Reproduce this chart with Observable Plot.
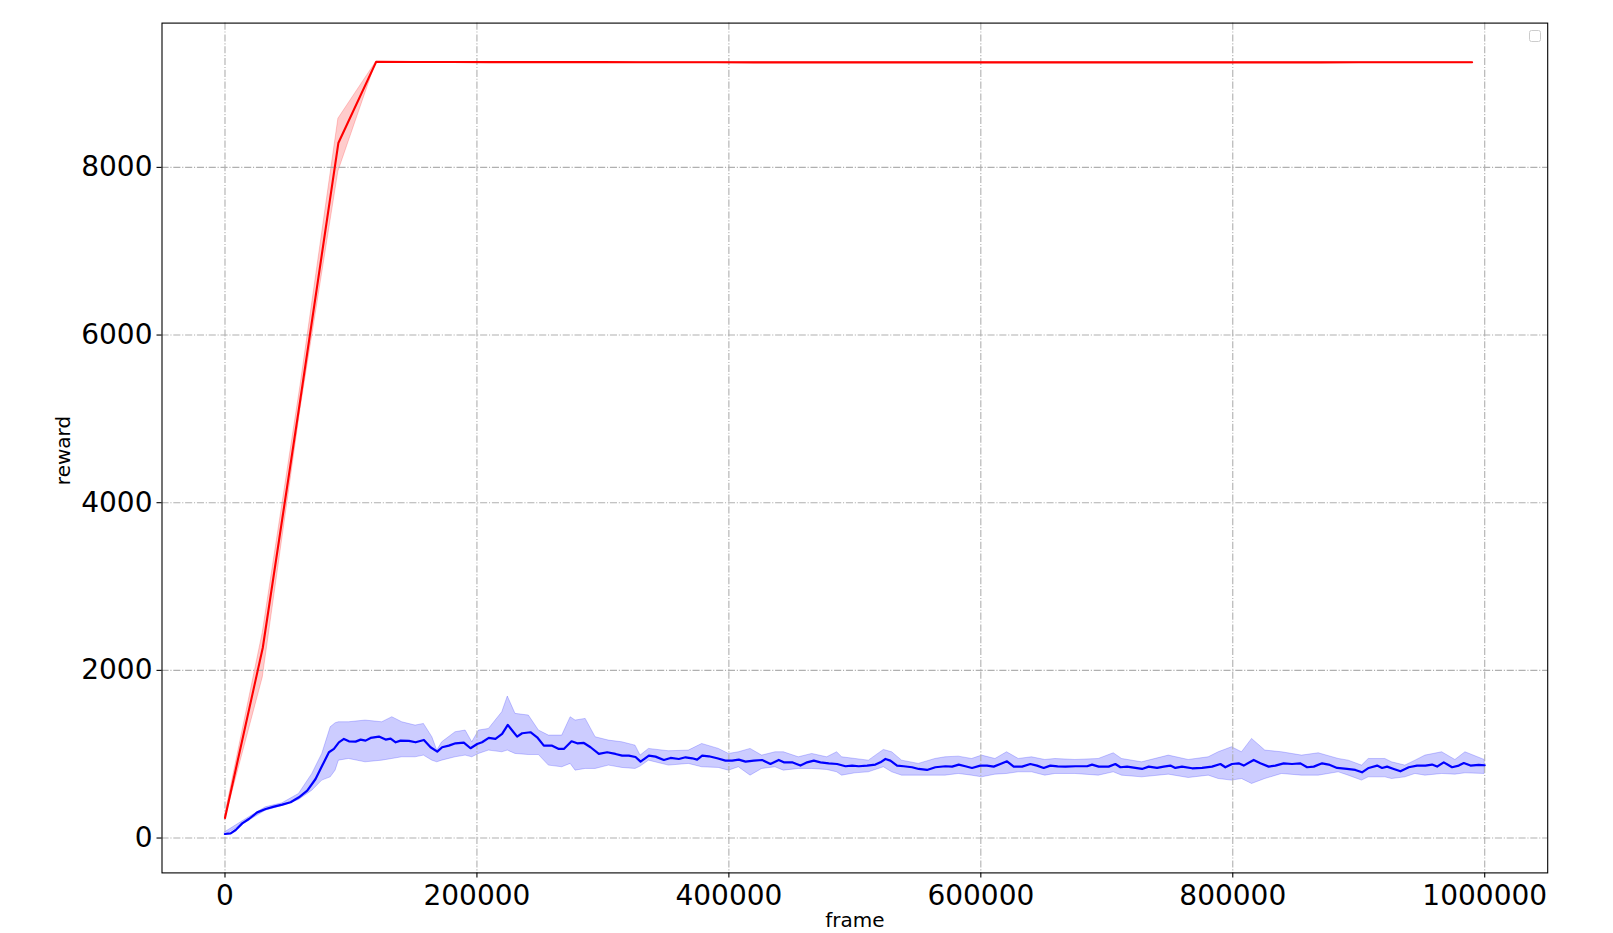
<!DOCTYPE html>
<html>
<head>
<meta charset="utf-8">
<script src="https://cdn.jsdelivr.net/npm/d3@7"></script>
<script src="https://cdn.jsdelivr.net/npm/@observablehq/plot@0.6"></script>
<style>
  html, body { margin: 0; padding: 0; background: #fff; }
  #chart { width: 1613px; height: 933px; }
</style>
</head>
<body>
<div id="chart"></div>
<script>
// ---------- data ----------
const xTicks = [0, 200000, 400000, 600000, 800000, 1000000];
const yTicks = [0, 2000, 4000, 6000, 8000];
const xLabel = "frame";
const yLabel = "reward";

// red series (mean) and its spread
const redX = [0, 30000, 60000, 90000, 120000, 150000, 180000, 210000, 240000, 270000,
  300000, 330000, 360000, 390000, 420000, 450000, 480000, 510000, 540000, 570000,
  600000, 630000, 660000, 690000, 720000, 750000, 780000, 810000, 840000, 870000,
  900000, 930000, 960000, 990000];
const redY = [240, 2270, 5250, 8290, 9258, 9257, 9257, 9256, 9256, 9255,
  9255, 9254, 9254, 9254, 9253, 9253, 9253, 9253, 9253, 9253,
  9253, 9253, 9253, 9253, 9253, 9253, 9253, 9253, 9253, 9253,
  9254, 9254, 9254, 9254];
const redLo = [215, 1915, 5120, 7950, 9258, 9257, 9257, 9256, 9256, 9255,
  9255, 9254, 9254, 9254, 9253, 9253, 9253, 9253, 9253, 9253,
  9253, 9253, 9253, 9253, 9253, 9253, 9253, 9253, 9253, 9253,
  9254, 9254, 9254, 9254];
const redHi = [265, 2450, 5400, 8580, 9258, 9257, 9257, 9256, 9256, 9255,
  9255, 9254, 9254, 9254, 9253, 9253, 9253, 9253, 9253, 9253,
  9253, 9253, 9253, 9253, 9253, 9253, 9253, 9253, 9253, 9253,
  9254, 9254, 9254, 9254];

// blue series (mean)
const blueX = [
  0, 4500, 8500, 13700, 19000, 25600, 32300, 38900, 45500, 52100,
  58700, 65300, 71900, 77200, 82500, 86500, 90400, 94400, 98400, 103700,
  107700, 111600, 115600, 122200, 127500, 131500, 135500, 139400, 146000, 151300,
  157900, 163200, 168500, 172400, 177700, 183000, 189600, 194900, 200200, 204100,
  209400, 214700, 220000, 224500, 228000, 231900, 235900, 242500, 247800, 253100,
  259700, 265000, 269000, 275100, 279600, 284900, 290200, 296800, 303400, 310000,
  315300, 320600, 325900,
  329900, 336500, 341800, 348400, 353700, 360300, 365600, 370900, 374800, 378800,
  384100, 390700, 397300, 402600, 407900, 413200, 419800, 426400, 433000, 439600,
  443600, 450200, 456800, 462100, 467400, 472700, 479300, 485900, 492600, 497800,
  503100, 509700, 516300, 520300, 524300, 528200, 533500, 538800, 545400, 550700,
  557300, 563900, 571900, 577200, 582500, 587700, 593000, 599600, 604900, 610200,
  615500, 620800, 626100, 632700, 639300, 644600, 649900, 655200,
  661000, 667200, 675100, 684400, 688300, 693600, 701500, 706800, 710800, 716100,
  722700, 728000, 733300, 739900, 745200, 750500, 754400, 759700, 767700, 775600,
  783500, 790200, 794100, 799400, 804700, 808700, 816600, 821900, 828500, 833800,
  840400, 847000, 853700, 859000, 864300, 870900, 876200, 882800, 890700, 897300,
  902600, 907900, 914600, 918500, 922500, 927800, 933100, 939700, 946300, 952900,
  958200, 962200, 967500, 974100, 979400, 983400, 988700, 995300, 1000000];
const blueY = [
  48, 56, 96, 175, 227, 306, 346, 374, 398, 426,
  486, 565, 704, 864, 1023, 1063, 1142, 1182, 1154, 1150,
  1174, 1162, 1194, 1210, 1174, 1186, 1142, 1162, 1158, 1142,
  1170, 1083, 1031, 1083, 1102, 1130, 1138, 1071, 1122, 1142,
  1194, 1182, 1242, 1349, 1282, 1210, 1250, 1262, 1202, 1102,
  1102, 1063, 1063, 1154, 1130, 1134, 1083, 1003, 1023, 1003,
  983, 983, 967,
  911, 983, 971, 931, 955, 943, 963, 951, 935, 983,
  975, 951, 923, 923, 935, 911, 923, 931, 883, 931,
  903, 903, 864, 903, 923, 903, 891, 883, 856, 864,
  856, 864, 876, 903, 943, 923, 864, 856, 844, 824,
  812, 844, 856, 852, 876, 856, 836, 864, 864, 852,
  883, 915, 852, 852, 883, 864, 836, 864,
  854, 852, 856, 856, 876, 852, 852, 883, 844, 852,
  836, 824, 852, 836, 852, 864, 836, 852, 832, 836,
  852, 883, 844, 883, 891, 864, 931, 891, 852, 864,
  891, 883, 891, 844, 852, 891, 876, 836, 824, 812,
  784, 836, 864, 836, 852, 824, 796, 844, 864, 864,
  876, 852, 903, 844, 864, 895, 864, 872, 868];

// blue spread (lower / upper edge)
const blueBandX = [
  0, 19100, 32300, 45500, 58700, 69300, 77200, 83900, 87800, 90400,
  98400, 111600, 124800, 132800, 140700, 151300, 157900, 164600, 168500, 172400,
  183000, 191000, 196300, 201600, 209500, 220100, 224500, 230600, 241200, 249200,
  257100, 267700, 274400, 278300, 286300, 294200, 304800, 315400, 325900,
  329900, 336500, 352400, 368200, 378800, 392000, 400000, 407900, 417200, 426400,
  437000, 443600, 455500, 466100, 478000, 485900, 489900, 500500, 511100, 523000,
  529600, 537500, 550700, 563900, 571900, 582500, 593000, 601000, 611600, 620800,
  630100, 640600, 651200,
  659200, 675100, 693600, 705500, 712100, 728000, 749200, 765000, 780900, 788800,
  799400, 807300, 815300, 825800, 839100, 855000, 868200, 884100, 892000, 902600,
  907900, 921100, 926400, 937000, 945000, 952900, 966200, 976700, 984700, 1000000];
const blueHi = [
  68, 247, 366, 414, 525, 764, 1003, 1321, 1369, 1381,
  1381, 1401, 1381, 1441, 1381, 1341, 1361, 1202, 1043, 1142,
  1262, 1282, 1142, 1282, 1301, 1500, 1688, 1481, 1461, 1282,
  1222, 1222, 1441, 1401, 1421, 1202, 1162, 1142, 1102,
  983, 1063, 1035, 1043, 1122, 1063, 1003, 1023, 1063, 983,
  1023, 1023, 963, 1003, 963, 1023, 963, 943, 923, 1051,
  1023, 923, 884, 943, 963, 971, 943, 983, 943, 1023,
  943, 963, 931,
  943, 931, 943, 1011, 943, 903, 983, 931, 963, 1023,
  1083, 1023, 1182, 1043, 1023, 983, 1011, 943, 923, 864,
  943, 943, 903, 864, 923, 983, 1023, 931, 1023, 931];
const blueLo = [
  36, 207, 326, 382, 454, 565, 685, 724, 804, 923,
  943, 903, 923, 943, 963, 963, 983, 923, 903, 923,
  963, 983, 963, 1003, 1043, 1023, 1043, 1003, 990, 990,
  864, 844, 884, 804, 824, 824, 864, 836, 824,
  852, 923, 864, 884, 844, 836, 804, 844, 744, 824,
  844, 804, 824, 824, 812, 784, 744, 772, 784, 844,
  784, 744, 744, 744, 744, 764, 744, 724, 756, 764,
  784, 784, 744,
  764, 764, 744, 784, 744, 724, 756, 716, 744, 704,
  685, 704, 645, 704, 764, 744, 744, 784, 744, 685,
  724, 724, 704, 724, 764, 744, 764, 756, 772, 764];

// ---------- tables built from the arrays ----------
const red = redX.map((x, i) => ({x, y: redY[i], lo: redLo[i], hi: redHi[i]}));
const blue = blueX.map((x, i) => ({x, y: blueY[i]}));
const blueBand = blueBandX.map((x, i) => ({x, lo: blueLo[i], hi: blueHi[i]}));

const fmt = d3.format("d");
const gridStyle = {stroke: "#b0b0b0", strokeOpacity: 1, strokeWidth: 1.1, strokeDasharray: "7.1,1.8,1.1,1.8"};

const chart = Plot.plot({
  width: 1613,
  height: 933,
  marginLeft: 161.5,
  marginRight: 65.8,
  marginTop: 22.6,
  marginBottom: 60.6,
  style: {fontFamily: "'DejaVu Sans', sans-serif", background: "#fff", color: "#000"},
  x: {type: "linear", domain: [-50000, 1050000]},
  y: {type: "linear", domain: [-416, 9721]},
  marks: [
    Plot.areaY(blueBand, {x: "x", y1: "lo", y2: "hi", fill: "blue", fillOpacity: 0.2, stroke: "blue", strokeOpacity: 0.2, strokeWidth: 1}),
    Plot.areaY(red, {x: "x", y1: "lo", y2: "hi", fill: "red", fillOpacity: 0.2, stroke: "red", strokeOpacity: 0.2, strokeWidth: 1}),
    Plot.gridX(xTicks, gridStyle),
    Plot.gridY(yTicks, gridStyle),
    Plot.lineY(red, {x: "x", y: "y", stroke: "red", strokeWidth: 2.1}),
    Plot.lineY(blue, {x: "x", y: "y", stroke: "blue", strokeWidth: 2.2}),
    Plot.axisX({ticks: xTicks, tickSize: 5, tickPadding: 7, tickFormat: fmt, fontSize: 28, label: null, strokeWidth: 1.1}),
    Plot.axisY({ticks: yTicks, tickSize: 5, tickPadding: 4.5, tickFormat: fmt, fontSize: 28, label: null, strokeWidth: 1.1}),
    Plot.frame({stroke: "#000", strokeWidth: 1.1}),
    Plot.text([xLabel], {text: d => d, frameAnchor: "bottom", textAnchor: "middle", lineAnchor: "middle", dy: 48, fontSize: 20, fill: "#000"}),
    Plot.text([yLabel], {text: d => d, frameAnchor: "left", textAnchor: "middle", lineAnchor: "middle", rotate: -90, dx: -98, dy: 2.5, fontSize: 20, fill: "#000"})
  ]
});

// empty legend box (top-right corner of the axes)
d3.select(chart).append("rect")
  .attr("x", 1529.5).attr("y", 30.5).attr("width", 11).attr("height", 11)
  .attr("rx", 2).attr("fill", "#fff").attr("stroke", "#cccccc").attr("stroke-width", 1);

document.getElementById("chart").appendChild(chart);
</script>
</body>
</html>
